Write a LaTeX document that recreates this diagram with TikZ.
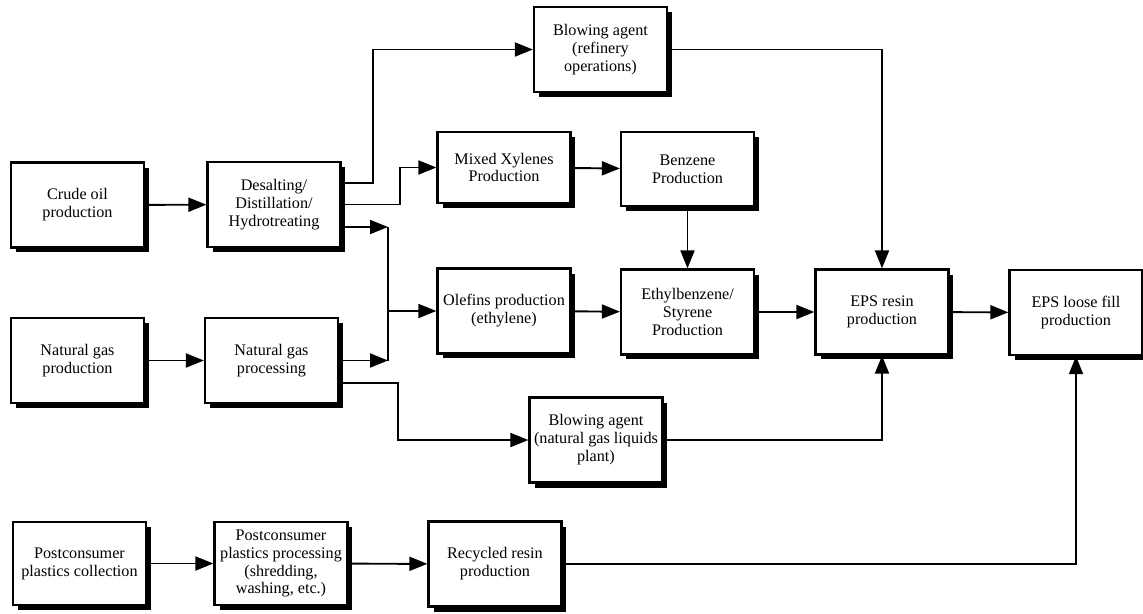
\documentclass[tikz,border=0pt]{standalone}
\usepackage{fontspec}
\setmainfont{Liberation Serif}
\usepackage{tikz}
\usetikzlibrary{arrows.meta, shadows}

\begin{document}
\begin{tikzpicture}[x=0.02cm, y=-0.02cm,
		>={Triangle[length=0.36cm, width=0.28cm]},   %Pfeilspitzen
		box/.style={draw, line width=1.3pt, fill=white, align=center,
			minimum width=2.66cm, minimum height=1.7cm, inner sep=2pt,
			drop shadow={shadow xshift=0.1cm, shadow yshift=-0.1cm, opacity=1, fill=black}},
		flow/.style={->, line width=1.1pt},
		font=\fontsize{9.2}{10.2}\selectfont]
	\useasboundingbox (0,0) rectangle (1143,613);
	% Rohstoffe
	\node[box] (crude) at (77.5,205) {Crude oil\\production};
	\node[box] (desalt) at (274,204.5) {Desalting/\\Distillation/\\Hydrotreating};
	\node[box] (ngprod) at (77.5,360.5) {Natural gas\\production};
	\node[box] (ngproc) at (271.5,360.5) {Natural gas\\processing};
	% Zwischenprodukte
	\node[box] (bafin) at (600.5,49.5) {Blowing agent\\(refinery\\operations)};
	\node[box, minimum height=1.42cm] (mxyl) at (504,167.5) {Mixed Xylenes\\Production};
	\node[box, minimum height=1.48cm] (benz) at (687.5,169) {Benzene\\Production};
	\node[box] (olef) at (504,311) {Olefins production\\(ethylene)};
	\node[box] (ethyl) at (687.5,312) {Ethylbenzene/\\Styrene\\Production};
	\node[box] (bangl) at (596,440) {Blowing agent\\(natural gas liquids\\plant)};
	% EPS
	\node[box] (epsres) at (882,312) {EPS resin\\production};
	\node[box] (loose) at (1076,312.5) {EPS loose fill\\production};
	% Recycling
	\node[box, minimum height=1.66cm] (pcoll) at (79.5,563.5) {Postconsumer\\plastics collection};
	\node[box, minimum height=1.66cm] (pproc) at (281,563.5) {Postconsumer\\plastics processing\\(shredding,\\washing, etc.)};
	\node[box] (recyc) at (495,564) {Recycled resin\\production};
	% Verzweigung
	\coordinate (jtop) at (388,227);
	\coordinate (jbot) at (388,360.5);
	% Pfeile zeichnen
	\draw[flow] (crude) -- (desalt);
	\draw[flow] ([yshift=0.43cm]desalt.east) -- ++(31,0) |- (bafin.west);
	\draw[flow] (desalt.east) -- ++(58,0) |- (mxyl.west);
	\draw[flow] (desalt.east |- jtop) -- (jtop);
	\draw[flow] (ngprod) -- (ngproc);
	\draw[flow] (ngproc.east) -- (jbot);
	\draw[line width=1.1pt] (jtop) -- (jbot);
	\draw[flow] (jtop |- olef.west) -- (olef.west);
	\draw[flow] ([yshift=-0.45cm]ngproc.east) -- ++(59,0) |- (bangl.west);
	\draw[flow] (mxyl) -- (benz);
	\draw[flow] (benz) -- (ethyl);
	\draw[flow] (olef) -- (ethyl);
	\draw[flow] (ethyl) -- (epsres);
	\draw[flow] (epsres) -- (loose);
	\draw[flow] (bafin.east) -| (epsres.north);
	\draw[flow] (bangl.east) -| (epsres.south);
	\draw[flow] (pcoll) -- (pproc);
	\draw[flow] (pproc) -- (recyc);
	\draw[flow] (recyc.east) -| (loose.south);
\end{tikzpicture}
\end{document}
